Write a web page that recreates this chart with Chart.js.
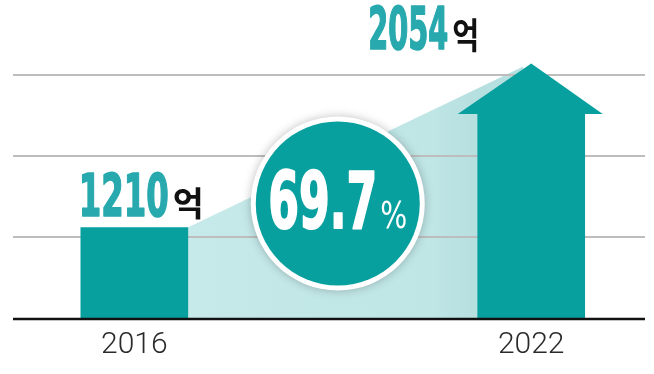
<!DOCTYPE html>
<html>
<head>
<meta charset="utf-8">
<script src="https://cdn.jsdelivr.net/npm/chart.js"></script>
<style>
  html, body { margin: 0; padding: 0; background: #fff; }
  canvas { display: block; }
</style>
</head>
<body>
<canvas id="grafico" width="654" height="374"></canvas>
<script>
// dados
const anos = [2016, 2022];
const valores = [1210, 2054];
const rotulos = ['1210', '2054'];
const unidade = '억';
const crescimento = '69.7';
const gradeTicks = [540, 1140, 1740, 2340];

const TEAL = '#08a09f';
const TEAL_TEXTO = '#27a9ae';
const NUM_FONT = "'Liberation Sans Narrow', 'DejaVu Sans Condensed', sans-serif";

// desenha texto comprimido na horizontal para caber numa largura
function textoEstreito(ctx, txt, x, y, font, largura, cor, contorno) {
  ctx.save();
  ctx.font = font;
  const w = ctx.measureText(txt).width;
  const sx = largura / w;
  ctx.translate(x, y);
  ctx.scale(sx, 1);
  ctx.fillStyle = cor;
  ctx.textBaseline = 'alphabetic';
  ctx.textAlign = 'left';
  ctx.fillText(txt, 0, 0);
  if (contorno) {
    ctx.strokeStyle = cor;
    ctx.lineWidth = contorno;
    ctx.lineJoin = 'round';
    ctx.strokeText(txt, 0, 0);
  }
  ctx.restore();
  return largura;
}

const decoracao = {
  id: 'decoracao',
  beforeDraw(chart) {
    const ctx = chart.ctx;
    const area = chart.chartArea;
    const barras = chart.getDatasetMeta(0).data;
    const b1 = barras[0], b2 = barras[1];
    const apexX = b2.x, apexY = b2.y - 50;
    const x0 = b1.x + b1.width / 2;

    const grad = ctx.createLinearGradient(x0, 0, b2.x - b2.width / 2, 0);
    grad.addColorStop(0, '#c6e9e9');
    grad.addColorStop(0.85, '#bfe5e5');
    grad.addColorStop(1, '#b6dfe0');
    ctx.save();
    ctx.beginPath();
    ctx.moveTo(x0, b1.y);
    ctx.lineTo(apexX - 8, apexY + 3);
    ctx.lineTo(apexX, area.bottom);
    ctx.lineTo(x0, area.bottom);
    ctx.closePath();
    ctx.fillStyle = grad;
    ctx.fill();
    ctx.restore();
  },
  afterDatasetsDraw(chart) {
    const ctx = chart.ctx;
    const area = chart.chartArea;
    const barras = chart.getDatasetMeta(0).data;
    const b1 = barras[0], b2 = barras[1];
    const apexX = b2.x, apexY = b2.y - 50;

    // ponta da seta
    ctx.save();
    ctx.beginPath();
    ctx.moveTo(b2.x - b2.width / 2 - 20, b2.y + 0.5);
    ctx.lineTo(apexX, apexY);
    ctx.lineTo(b2.x + b2.width / 2 + 18, b2.y + 0.5);
    ctx.closePath();
    ctx.fillStyle = TEAL;
    ctx.fill();
    ctx.restore();

    // linha de base
    const yBase = chart.scales.y.getPixelForValue(chart.scales.y.min);
    ctx.save();
    ctx.strokeStyle = '#111';
    ctx.lineWidth = 2.5;
    ctx.beginPath();
    ctx.moveTo(area.left, yBase + 1);
    ctx.lineTo(area.right, yBase + 1);
    ctx.stroke();
    ctx.restore();

    // circulo
    const cx = (b1.x + b1.width / 2 + b2.x - b2.width / 2) / 2 + 5;
    const cy = (area.top + area.bottom) / 2 + 7;
    ctx.save();
    ctx.shadowColor = 'rgba(0,0,0,0.25)';
    ctx.shadowBlur = 10;
    ctx.beginPath();
    ctx.arc(cx, cy, 87, 0, Math.PI * 2);
    ctx.fillStyle = '#fff';
    ctx.fill();
    ctx.restore();
    ctx.save();
    ctx.beginPath();
    ctx.arc(cx, cy, 82, 0, Math.PI * 2);
    ctx.fillStyle = TEAL;
    ctx.fill();
    ctx.restore();

    // 69.7%
    const wNum = 109, wPct = 27;
    const tx = cx - (wNum + 3 + wPct) / 2;
    textoEstreito(ctx, crescimento, tx, cy + 24, 'bold 78px ' + NUM_FONT, wNum, '#fff', 2);
    textoEstreito(ctx, '%', tx + wNum + 3, cy + 24, '38px ' + NUM_FONT, wPct, '#fff');

    // rotulos das barras
    const l1x = b1.x - b1.width / 2 - 2;
    const l1y = b1.y - 12;
    textoEstreito(ctx, rotulos[0], l1x, l1y, 'bold 59px ' + NUM_FONT, 90, TEAL_TEXTO, 1.6);
    textoEstreito(ctx, unidade, l1x + 94, l1y, "bold 34px 'Noto Sans CJK KR'", 31, '#111');

    const l2x = b2.x - 163;
    const l2y = apexY - 15;
    textoEstreito(ctx, rotulos[1], l2x, l2y, 'bold 59px ' + NUM_FONT, 80, TEAL_TEXTO, 1.6);
    textoEstreito(ctx, unidade, l2x + 84, l2y, "bold 36px 'Noto Sans CJK KR'", 27, '#111');
  }
};

new Chart(document.getElementById('grafico'), {
  type: 'bar',
  data: {
    datasets: [{
      data: anos.map((a, i) => ({ x: a, y: valores[i] })),
      backgroundColor: TEAL,
      borderWidth: 0,
      barThickness: 107
    }]
  },
  options: {
    responsive: false,
    animation: false,
    devicePixelRatio: 1,
    layout: { padding: { top: 75, left: 13, right: 9, bottom: 2 } },
    plugins: { legend: { display: false }, tooltip: { enabled: false } },
    scales: {
      x: {
        type: 'linear',
        offset: false,
        min: 2014.166,
        max: 2023.72,
        afterBuildTicks: (axis) => { axis.ticks = anos.map(v => ({ value: v })); },
        grid: { display: false, drawTicks: false },
        border: { display: false },
        ticks: {
          padding: 12,
          color: '#2a2a2a',
          maxRotation: 0,
          font: { family: 'Roboto', weight: '300', size: 30, lineHeight: 1 },
          callback: (v) => String(v)
        }
      },
      y: {
        min: gradeTicks[0],
        max: gradeTicks[gradeTicks.length - 1],
        afterBuildTicks: (axis) => { axis.ticks = gradeTicks.map(v => ({ value: v })); },
        grid: {
          drawTicks: false,
          lineWidth: 2,
          color: (c) => c.tick && c.tick.value === gradeTicks[0] ? 'rgba(0,0,0,0)' : '#bdbdbd'
        },
        border: { display: false },
        ticks: { display: false }
      }
    }
  },
  plugins: [decoracao]
});
</script>
</body>
</html>
